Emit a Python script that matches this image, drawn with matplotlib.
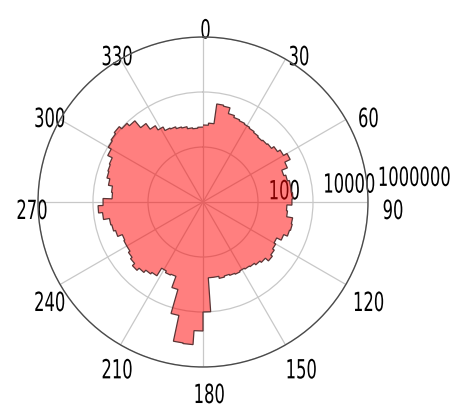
import numpy as np
import matplotlib
matplotlib.use('Agg')
import matplotlib.pyplot as plt
from matplotlib.ticker import NullLocator
from matplotlib.patheffects import AbstractPathEffect
from matplotlib.transforms import Affine2D

plt.rcParams['font.family'] = ['DejaVu Sans']

# 4-degree direction bins, counts per bin
bin_edges_deg = np.arange(0, 361, 4)
counts = [
    630, 750, 3980, 3660, 2210, 1870, 1720, 1590, 1460, 1340,
    1230, 1340, 1460, 1870, 2410, 3370, 2040, 1230, 1460, 1720,
    1720, 1870, 1720, 1130, 1230, 2040, 2210, 2040, 1460, 960,
    1130, 1340, 1590, 1130, 960, 810, 750, 690, 750, 690,
    630, 690, 580, 580, 10000, 49000, 158000, 150000, 16500, 2040,
    750, 810, 690, 1460, 1720, 2210, 2850, 2210, 1870, 1590,
    1590, 1460, 2210, 2620, 2850, 4710, 6580, 4330, 2040, 2210,
    3100, 3980, 4330, 4710, 7150, 9500, 10800, 12500, 9500, 7150,
    3370, 1870, 1230, 880, 810, 690, 630, 530, 490, 530,
]

theta_ticks = list(range(0, 360, 30))
theta_labels = [str(t) for t in theta_ticks]
r_ticks = [100, 10000, 1000000]
r_labels = ['100', '10000', '1000000']


class Narrow(AbstractPathEffect):
    """Squeeze text glyphs horizontally and nudge them (offsets in points)."""

    def __init__(self, sx, dx=0.0, dy=0.0, anchor='center'):
        super().__init__()
        self.sx = sx
        self.dx = dx
        self.dy = dy
        self.anchor = anchor

    def draw_path(self, renderer, gc, tpath, affine, rgbFace=None):
        ext = tpath.get_extents(affine)
        x0 = ext.x0 if self.anchor == 'left' else 0.5 * (ext.x0 + ext.x1)
        k = renderer.points_to_pixels(1.0)
        tr = affine + Affine2D().translate(-x0, 0).scale(self.sx, 1.0) \
            .translate(x0 + self.dx * k, self.dy * k)
        renderer.draw_path(gc, tpath, tr, rgbFace)


fig = plt.figure(figsize=(4.6, 4.06), dpi=100)
ax = fig.add_axes([0.0826, 0.0936, 0.7174, 0.8128], projection='polar')
ax.set_theta_zero_location('N')
ax.set_theta_direction(-1)
ax.set_rscale('log')
ax.set_rlim(1, 1e6)
ax.set_axisbelow(True)

edges = np.deg2rad(bin_edges_deg)
ax.stairs(counts, edges, baseline=1, fill=True, facecolor='red', alpha=0.5,
          edgecolor='none')
ax.stairs(counts, edges, baseline=None, fill=False, edgecolor='#5a3434',
          linewidth=0.9)

ax.set_thetagrids(theta_ticks, labels=theta_labels, fontsize=19)
ax.set_rticks(r_ticks)
ax.set_yticklabels(r_labels, fontsize=19)
ax.yaxis.set_minor_locator(NullLocator())
ax.set_rlabel_position(83)
ax.grid(True, color='#c8c8c8', linewidth=0.9)
ax.spines['polar'].set_color('#4a4a4a')
ax.spines['polar'].set_linewidth(1.0)
ax.tick_params(axis='x', pad=3.2)

# small per-label nudges (points) for the angle labels
nudge = {'0': (-2.5, -2.5), '30': (-1.5, -4.0), '330': (0.0, -4.0),
         '270': (5.0, 0.0)}
for lbl in ax.get_xticklabels():
    ex, ey = nudge.get(lbl.get_text(), (0.0, 0.0))
    lbl.set_path_effects([Narrow(0.62, dx=4.3 + ex, dy=-7.2 + ey)])
for lbl in ax.get_yticklabels():
    lbl.set_path_effects([Narrow(0.62, dx=7.2, dy=-7.2, anchor='left')])

fig.savefig('out.png', dpi=100)
